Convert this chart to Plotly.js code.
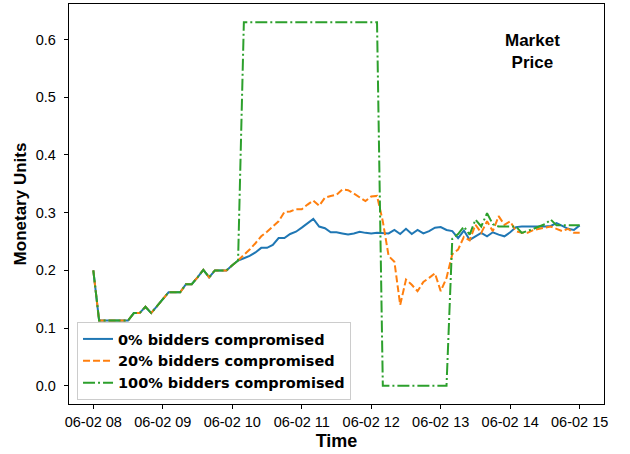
<!DOCTYPE html>
<html>
<head>
<meta charset="utf-8">
<script src="https://cdn.plot.ly/plotly-3.0.1.min.js"></script>
<style>html,body{margin:0;padding:0;background:#fff;}#chart{width:630px;height:454px;}</style>
</head>
<body>
<div id="chart"></div>
<script>
// Time grid: 5-minute samples from 08:00 to 15:00 on 06-02
var startTime = "2020-06-02T08:00:00";
var stepMinutes = 5;
var nPoints = 85;

var seriesNames = ["0% bidders compromised", "20% bidders compromised", "100% bidders compromised"];

var price0 = [0.200,0.113,0.113,0.113,0.113,0.113,0.113,0.126,0.126,0.137,0.126,0.138,0.150,0.162,0.162,0.162,0.176,0.176,0.188,0.201,0.188,0.200,0.200,0.200,0.209,
  0.217,0.221,0.225,0.231,0.239,0.239,0.244,0.256,0.256,0.263,0.267,0.274,0.281,0.289,0.276,0.273,0.266,
  0.266,0.264,0.262,0.264,0.267,0.265,0.264,0.265,0.265,0.264,0.270,0.263,0.272,0.263,0.270,0.264,0.268,0.274,0.275,0.270,
  0.268,0.256,0.269,0.253,0.259,0.265,0.259,0.266,0.262,0.259,0.266,0.275,0.276,0.276,0.275,0.276,0.276,0.277,0.282,0.277,0.272,0.270,0.278];

var price20 = [0.200,0.113,0.113,0.113,0.113,0.113,0.113,0.126,0.126,0.137,0.126,0.138,0.150,0.162,0.162,0.162,0.176,0.176,0.188,0.201,0.188,0.200,0.200,0.200,0.209,
  0.217,0.227,0.236,0.247,0.259,0.267,0.276,0.285,0.301,0.302,0.306,0.306,0.314,0.321,0.312,0.326,0.329,
  0.331,0.340,0.339,0.333,0.326,0.320,0.328,0.329,0.285,0.225,0.215,0.140,0.184,0.175,0.164,0.180,0.187,0.195,0.164,0.187,
  0.228,0.236,0.258,0.252,0.279,0.265,0.285,0.268,0.294,0.279,0.285,0.268,0.265,0.265,0.270,0.272,0.275,0.276,0.272,0.268,0.272,0.265,0.265];

var price100 = [0.200,0.113,0.113,0.113,0.113,0.113,0.113,0.126,0.126,0.137,0.126,0.138,0.150,0.162,0.162,0.162,0.176,0.176,0.188,0.201,0.188,0.200,0.200,0.200,0.209,
  0.217,0.630,0.630,0.630,0.630,0.630,0.630,0.630,0.630,0.630,0.630,0.630,0.630,0.630,0.630,0.630,0.630,
  0.630,0.630,0.630,0.630,0.630,0.630,0.630,0.630,0.000,0.000,0.000,0.000,0.000,0.000,0.000,0.000,0.000,0.000,0.000,0.000,
  0.255,0.263,0.276,0.262,0.288,0.276,0.299,0.280,0.276,0.276,0.276,0.276,0.265,0.268,0.272,0.276,0.280,0.288,0.278,0.278,0.278,0.278,0.278];

var yTicks = [0.0, 0.1, 0.2, 0.3, 0.4, 0.5, 0.6];

function pad(n){return (n<10?"0":"")+n;}
var times = [];
var base = new Date(startTime + "Z").getTime();
for (var i = 0; i < nPoints; i++) {
  var d = new Date(base + i*stepMinutes*60000);
  times.push(d.getUTCFullYear()+"-"+pad(d.getUTCMonth()+1)+"-"+pad(d.getUTCDate())+" "+pad(d.getUTCHours())+":"+pad(d.getUTCMinutes()));
}

var colors = ["#1f77b4", "#ff7f0e", "#2ca02c"];
var dashes = ["solid", "7px,3px", "12px,3px,2px,3px"];
var allSeries = [price0, price20, price100];

var traces = allSeries.map(function(s, k){
  return {x: times, y: s, type: "scatter", mode: "lines", name: "<b>"+seriesNames[k]+"</b>",
    line: {color: colors[k], width: 2, dash: dashes[k]}};
});

var font = "Liberation Sans, Arial, sans-serif";
var layout = {
  width: 630, height: 454,
  margin: {l: 69, r: 26, t: 4, b: 50},
  paper_bgcolor: "#fff", plot_bgcolor: "#fff",
  font: {family: font, size: 14, color: "#000"},
  showlegend: true,
  legend: {x: 0.015, y: 0.01, xanchor: "left", yanchor: "bottom",
    bgcolor: "rgba(255,255,255,0.8)", bordercolor: "#cccccc", borderwidth: 1,
    font: {family: "DejaVu Sans, sans-serif", size: 14.5, color: "#000"}, tracegroupgap: 0},
  xaxis: {
    type: "date", range: ["2020-06-02 07:39", "2020-06-02 15:21"],
    tick0: "2020-06-02 08:00", dtick: 3600000, tickformat: "%m-%d %H",
    showgrid: false, zeroline: false, showline: true, mirror: true, linecolor: "#000", linewidth: 1.2,
    ticks: "outside", ticklen: 4, tickwidth: 1, tickcolor: "#000",
    tickfont: {family: font, size: 14.5, color: "#000"},
    title: {text: "<b>Time</b>", font: {family: font, size: 18, color: "#000"}, standoff: 5}
  },
  yaxis: {
    range: [-0.0315, 0.6615], tickvals: yTicks, tickformat: ".1f",
    showgrid: false, zeroline: false, showline: true, mirror: true, linecolor: "#000", linewidth: 1.2,
    ticks: "outside", ticklen: 4, tickwidth: 1, tickcolor: "#000", ticklabelstandoff: 5,
    tickfont: {family: font, size: 14.5, color: "#000"},
    title: {text: "<b>Monetary Units</b>", font: {family: font, size: 17, color: "#000"}, standoff: 4}
  },
  annotations: [{
    xref: "paper", yref: "paper", x: 0.867, y: 0.8825, xanchor: "center", yanchor: "middle",
    text: "<b>Market<br>Price</b>", showarrow: false, align: "center",
    font: {family: font, size: 17, color: "#000"}
  }]
};

Plotly.newPlot("chart", traces, layout, {displayModeBar: false, staticPlot: true});
</script>
</body>
</html>
